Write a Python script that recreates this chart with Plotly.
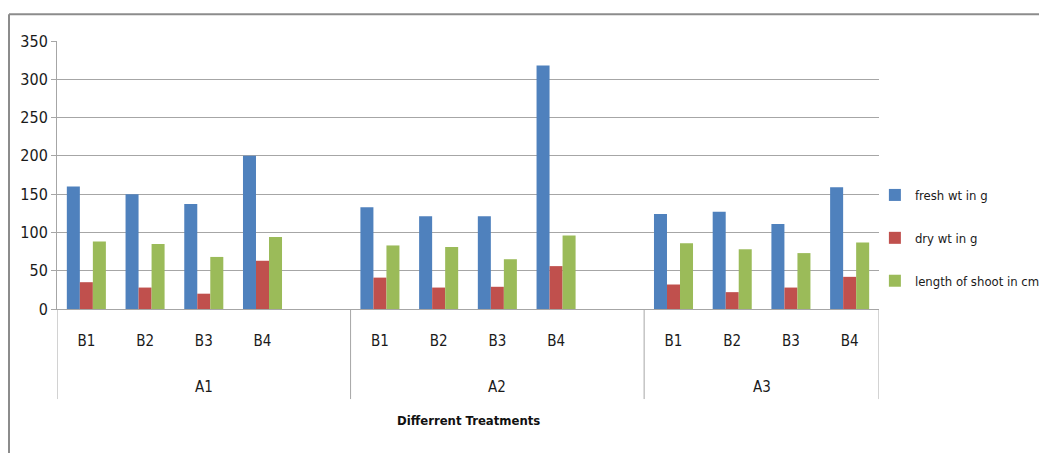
import plotly.graph_objects as go

groups = ["A1", "A2", "A3"]
subs = ["B1", "B2", "B3", "B4"]
fresh_wt = [160, 150, 137, 200, 133, 121, 121, 318, 124, 127, 111, 159]
dry_wt = [35, 28, 20, 63, 41, 28, 29, 56, 32, 22, 28, 42]
shoot_len = [88, 85, 68, 94, 83, 81, 65, 96, 86, 78, 73, 87]
y_ticks = [0, 50, 100, 150, 200, 250, 300, 350]
x_title = "Differrent Treatments"

FONT = "DejaVu Sans Condensed, DejaVu Sans, Liberation Sans"
GRID = "#A6A6A6"
TXT = "#1a1a1a"

W, H = 1047, 453
ML, MR, MT, MB = 49, 176, 33, 152

# slot positions: each group has 4 bars + one empty slot (except last)
xpos = []
labels = []
for gi, g in enumerate(groups):
    for si, s in enumerate(subs):
        xpos.append(gi * 5 + si)
        labels.append(s)

fig = go.Figure()
series = [("fresh wt in g", fresh_wt, "#4F81BD"),
          ("dry wt in g", dry_wt, "#C0504D"),
          ("length of shoot in cm", shoot_len, "#9BBB59")]
for i, (name, vals, col) in enumerate(series):
    fig.add_trace(go.Bar(x=xpos, y=vals, name=name, marker_color=col,
                         marker_line_width=0, legendgroup=f"g{i}"))

n_slots = len(groups) * 5 - 1
fig.update_layout(
    width=W, height=H,
    margin=dict(l=ML, r=MR, t=MT, b=MB, autoexpand=False),
    paper_bgcolor="white", plot_bgcolor="white",
    barmode="group", bargap=0.335, bargroupgap=0,
    font=dict(family=FONT, size=15, color=TXT),
    showlegend=True,
    legend=dict(x=0.995, xanchor="left", y=0.265, yanchor="middle",
                font=dict(family=FONT, size=13, color=TXT),
                traceorder="grouped", tracegroupgap=23,
                itemwidth=30, bgcolor="rgba(0,0,0,0)", borderwidth=0),
    xaxis=dict(range=[-0.5, n_slots - 0.5], tickmode="array",
               tickvals=xpos, ticktext=labels, ticks="", showgrid=False,
               showline=True, linecolor=GRID, linewidth=1,
               zeroline=False, ticklabelstandoff=18,
               tickfont=dict(family=FONT, size=15, color=TXT)),
    yaxis=dict(range=[0, 350], tickmode="array", tickvals=y_ticks,
               showgrid=True, gridcolor=GRID, gridwidth=1,
               showline=True, linecolor=GRID, linewidth=1,
               ticks="outside", ticklen=5, tickcolor=GRID,
               zeroline=False,
               tickfont=dict(family=FONT, size=16, color=TXT)),
)

# group dividers
for xd in [-0.5, 4.5, 9.5, n_slots - 0.5]:
    fig.add_shape(type="line", xref="x", yref="paper", x0=xd, x1=xd,
                  y0=0, y1=-0.336, line=dict(color=GRID, width=1))

# group labels
centers = [2, 7, 11.5]
for g, c in zip(groups, centers):
    fig.add_annotation(x=c, xref="x", y=-0.291, yref="paper", text=g,
                       showarrow=False, yanchor="middle",
                       font=dict(family=FONT, size=15, color=TXT))

fig.add_annotation(x=0.5, xref="paper", y=-0.415, yref="paper",
                   text=f"<b>{x_title}</b>", showarrow=False, yanchor="middle",
                   font=dict(family=FONT, size=13, color="#111111"))

# outer chart border (top and left)
fig.add_shape(type="line", xref="paper", yref="paper", x0=-0.0584, x1=1.3,
              y0=1.1, y1=1.1, line=dict(color="#8C8C8C", width=2))
fig.add_shape(type="line", xref="paper", yref="paper", x0=-0.0584, x1=-0.0584,
              y0=-0.6, y1=1.1, line=dict(color="#8C8C8C", width=2))

fig.write_html("out.html")
